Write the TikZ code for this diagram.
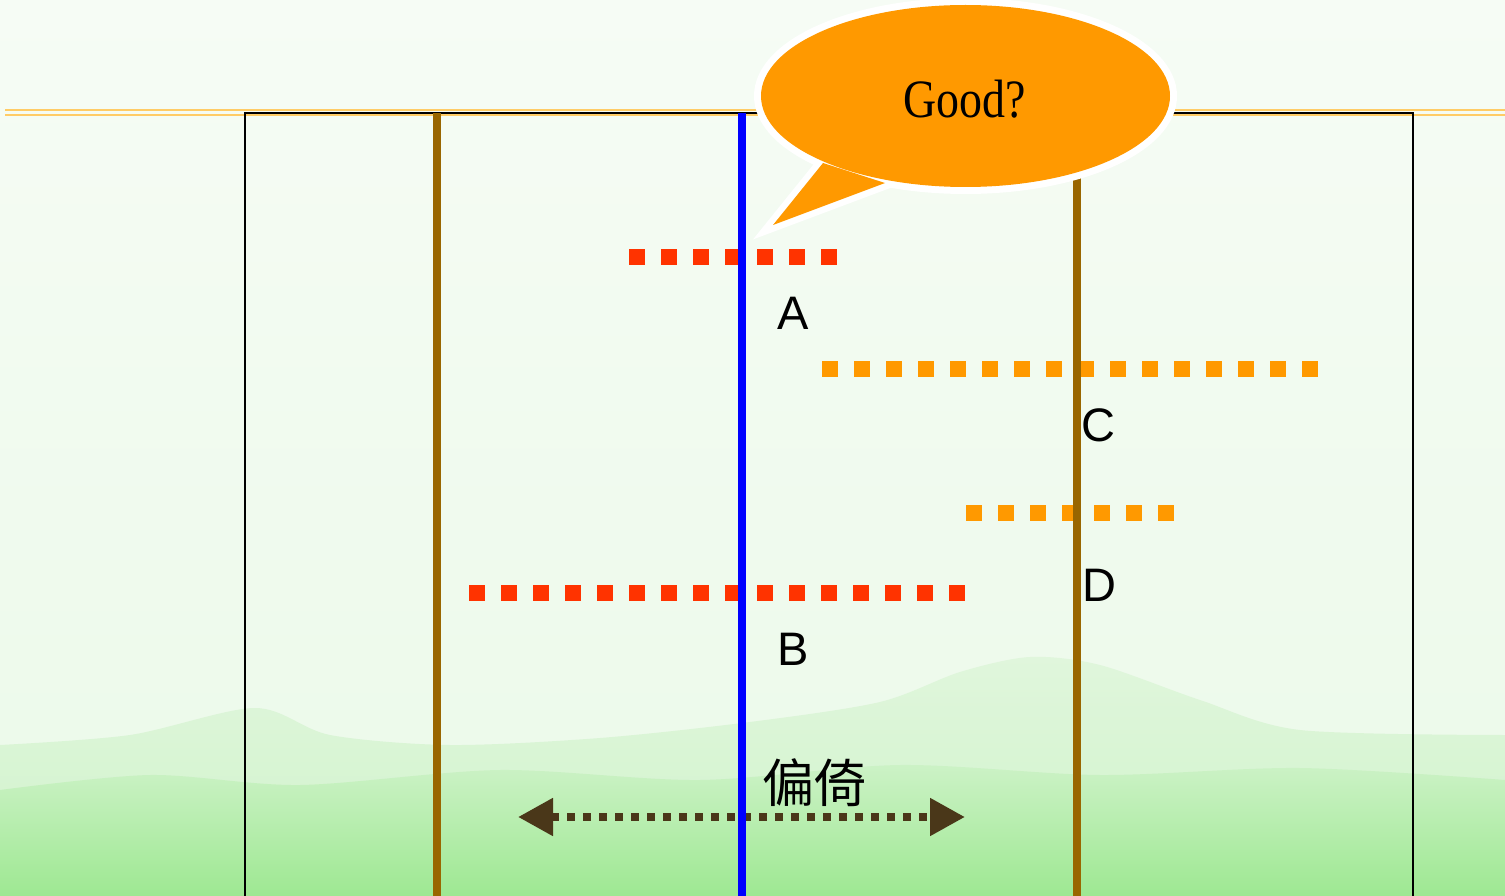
\documentclass[tikz,border=0pt]{standalone}
\usepackage{fontspec}
\setmainfont{Liberation Sans}
\newfontfamily\cjk{Noto Sans CJK SC}
\newfontfamily\serifgood{Liberation Serif}
\usetikzlibrary{arrows.meta}
\definecolor{redsq}{HTML}{FF3300}
\definecolor{orsq}{HTML}{FF9900}
\definecolor{brownl}{HTML}{996600}
\definecolor{bluel}{HTML}{0000FF}
\definecolor{arrowc}{HTML}{4A3719}
\definecolor{topline}{HTML}{FFCC66}
\definecolor{bubble}{HTML}{FF9900}
\definecolor{bgtop}{HTML}{F6FCF5}
\definecolor{bgmid}{HTML}{EBF9E9}
\definecolor{hilltop}{HTML}{E0F6DC}
\definecolor{hillmid}{HTML}{CFF3CA}
\definecolor{lowtop}{HTML}{CCF2C6}
\definecolor{bgbot}{HTML}{9EE892}
\begin{document}
\begin{tikzpicture}[x=1pt,y=-1pt,
  sqdots/.style={line width=16pt, dash pattern=on 16pt off 16pt},
  lbl/.style={font=\fontsize{47}{47}\selectfont, inner sep=0pt, anchor=base},
  pole/.style={line width=8pt, draw=brownl},
]
\useasboundingbox (0,0) rectangle (1505,896);
\clip (0,0) rectangle (1505,896);
% background
\shade[top color=bgtop, bottom color=bgmid] (0,0) rectangle (1505,896);
\shade[top color=hilltop, bottom color=hillmid]
  plot[smooth] coordinates {(0,745) (130,735) (255,708) (330,735) (450,745) (600,738) (750,722) (880,702) (960,672) (1030,657) (1100,665) (1200,700) (1300,730) (1505,735)}
  -- (1505,896) -- (0,896) -- cycle;
\shade[top color=lowtop, bottom color=bgbot]
  plot[smooth] coordinates {(0,790) (150,775) (300,785) (500,770) (700,780) (900,765) (1100,775) (1300,768) (1505,780)}
  -- (1505,896) -- (0,896) -- cycle;
% top double line
\draw[topline, line width=2.5pt] (5,110) -- (1505,110);
\draw[topline, line width=2.5pt] (5,115) -- (1505,115);
% frame
\draw[black, line width=1.5pt] (245,900) -- (245,113) -- (1413,113) -- (1413,900);
% dotted lines
\draw[redsq, sqdots] (629,257) -- (837,257);
\draw[orsq, sqdots] (822,369) -- (1318,369);
\draw[orsq, sqdots] (966,513) -- (1174,513);
\draw[redsq, sqdots] (469,593) -- (965,593);
% arrow
\coordinate (la) at (518,817);
\coordinate (ra) at (965,817);
\draw[arrowc, line width=8pt, dash pattern=on 8pt off 8pt,
  {Triangle[length=35pt,width=36pt]}-{Triangle[length=35pt,width=36pt]}] (la) -- (ra);
% vertical lines
\draw[pole] (437,113) -- (437,896);
\draw[pole] (1077,113) -- (1077,896);
\draw[bluel, line width=8pt] (741.5,113) -- (741.5,896);
% callout
\draw[white, line width=14pt] (965.5,96) ellipse [x radius=204.5, y radius=91];
\draw[white, line width=13pt, line join=miter] (823,163) -- (773,225) -- (885,183) -- cycle;
\fill[bubble] (965.5,96) ellipse [x radius=204.5, y radius=91];
\fill[bubble] (823,163) -- (773,225) -- (885,183) -- cycle;
\node[font=\serifgood\fontsize{54}{54}\selectfont, xscale=0.85, inner sep=0pt, anchor=base] (good) at (965,118) {Good?};
% labels
\node[lbl] (A) at (793,329) {A};
\node[lbl] (B) at (793,665) {B};
\node[lbl] (C) at (1098,441) {C};
\node[lbl] (D) at (1099,601) {D};
\node[font=\cjk\fontsize{52}{52}\selectfont, inner sep=0pt, anchor=base] (pianyi) at (814,802) {偏倚};
\end{tikzpicture}
\end{document}
